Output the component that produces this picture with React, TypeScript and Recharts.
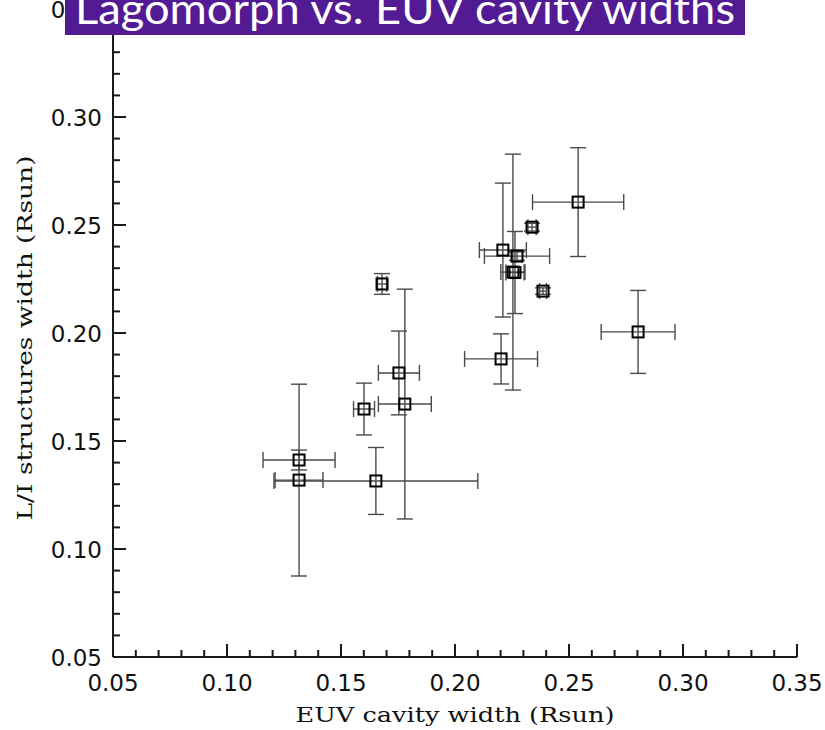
import React from 'react';
import { ScatterChart, Scatter, XAxis, YAxis, ErrorBar } from 'recharts';

const euvWidth = [0.1316, 0.1316, 0.1653, 0.1601, 0.178, 0.1754, 0.168, 0.221, 0.2272, 0.2254, 0.2263, 0.2338, 0.254, 0.2386, 0.2803, 0.2202];
const liWidth = [0.1412, 0.1319, 0.1315, 0.1648, 0.1671, 0.1815, 0.2227, 0.2384, 0.2356, 0.2282, 0.228, 0.249, 0.2606, 0.2194, 0.2005, 0.188];
const euvErr = [0.0158, 0.0105, 0.0447, 0.0046, 0.0116, 0.009, 0.002, 0.0103, 0.0143, 0.0053, 0.004, 0.0018, 0.02, 0.0015, 0.0162, 0.016];
const liErr = [0.0046, 0.0444, 0.0155, 0.012, 0.0532, 0.0194, 0.0048, 0.031, 0.002, 0.0546, 0.019, 0.0018, 0.0252, 0.0015, 0.0192, 0.0116];

const axisTicks = [0.05, 0.06, 0.07, 0.08, 0.09, 0.1, 0.11, 0.12, 0.13, 0.14, 0.15, 0.16, 0.17, 0.18, 0.19, 0.2, 0.21, 0.22, 0.23, 0.24, 0.25, 0.26, 0.27, 0.28, 0.29, 0.3, 0.31, 0.32, 0.33, 0.34, 0.35];

const titleText = 'Lagomorph vs. EUV cavity widths';
const xLabel = 'EUV cavity width (Rsun)';
const yLabel = 'L/I structures width (Rsun)';

const data = euvWidth.map((x, i) => ({ x, y: liWidth[i], xErr: euvErr[i], yErr: liErr[i] }));

const isMajor = (v: number) => Math.round(v * 100) % 5 === 0;
const MAJ = 13;
const MIN = 7;
const AX = '#1a1a1a';
const tickFont = { fontFamily: '"DejaVu Sans", sans-serif', fontSize: 23, fill: '#111' };
const labelFont = { fontFamily: '"DejaVu Serif", serif', fontSize: 21, fill: '#111' };

const BottomTick = (p: any) => {
  const { x, y, payload } = p;
  const m = isMajor(payload.value);
  return (
    <g>
      <line x1={x} y1={y} x2={x} y2={y - (m ? MAJ : MIN)} stroke={AX} strokeWidth={2} />
      {m && (
        <text x={x} y={y + 34} textAnchor="middle" {...tickFont}>
          {payload.value.toFixed(2)}
        </text>
      )}
    </g>
  );
};

const TopTick = (p: any) => {
  const { x, y, payload } = p;
  const m = isMajor(payload.value);
  return <line x1={x} y1={y} x2={x} y2={y + (m ? MAJ : MIN)} stroke={AX} strokeWidth={2} />;
};

const LeftTick = (p: any) => {
  const { x, y, payload } = p;
  const m = isMajor(payload.value);
  return (
    <g>
      <line x1={x} y1={y} x2={x + (m ? MAJ : MIN)} y2={y} stroke={AX} strokeWidth={2} />
      {m && (
        <text x={x - 11} y={y + 8.5} textAnchor="end" {...tickFont}>
          {payload.value.toFixed(2)}
        </text>
      )}
    </g>
  );
};

const RightTick = (p: any) => {
  const { x, y, payload } = p;
  const m = isMajor(payload.value);
  return <line x1={x} y1={y} x2={x - (m ? MAJ : MIN)} y2={y} stroke={AX} strokeWidth={2} />;
};

const SquareMarker = (p: any) => {
  const { cx, cy } = p;
  if (cx == null || cy == null) return null;
  const s = 11;
  return <rect x={cx - s / 2} y={cy - s / 2} width={s} height={s} fill="none" stroke="#000" strokeWidth={2} />;
};

const XLabelContent = (p: any) => {
  const vb = p.viewBox || { x: 113, y: 657, width: 684 };
  return (
    <text x={vb.x + vb.width / 2} y={vb.y + 65} textAnchor="middle" textLength={319} lengthAdjust="spacingAndGlyphs" {...labelFont}>
      {xLabel}
    </text>
  );
};

const YLabelContent = () => {
  const cx = 25;
  const cy = 338;
  return (
    <text x={cx} y={cy} textAnchor="middle" dominantBaseline="central" textLength={365} lengthAdjust="spacingAndGlyphs" transform={`rotate(-90 ${cx} ${cy})`} {...labelFont}>
      {yLabel}
    </text>
  );
};

export default function App() {
  return (
    <div style={{ position: 'fixed', left: 0, top: 0, width: 825, height: 730, background: '#fff' }}>
      <ScatterChart width={825} height={730} margin={{ top: 9, right: 28, bottom: 0, left: 0 }}>
        <XAxis
          xAxisId="bottom"
          type="number"
          dataKey="x"
          domain={[0.05, 0.35]}
          ticks={axisTicks}
          interval={0}
          height={73}
          tickSize={0}
          tickMargin={0}
          tickLine={false}
          axisLine={{ stroke: AX, strokeWidth: 2 }}
          tick={<BottomTick />}
          allowDataOverflow
          label={<XLabelContent />}
        />
        <XAxis
          xAxisId="top"
          orientation="top"
          type="number"
          dataKey="x"
          domain={[0.05, 0.35]}
          ticks={axisTicks}
          interval={0}
          height={0}
          tickSize={0}
          tickMargin={0}
          tickLine={false}
          axisLine={{ stroke: AX, strokeWidth: 2 }}
          tick={<TopTick />}
          allowDataOverflow
        />
        <YAxis
          yAxisId="left"
          type="number"
          dataKey="y"
          domain={[0.05, 0.35]}
          ticks={axisTicks}
          interval={0}
          width={113}
          tickSize={0}
          tickMargin={0}
          tickLine={false}
          axisLine={{ stroke: AX, strokeWidth: 2 }}
          tick={<LeftTick />}
          allowDataOverflow
          label={<YLabelContent />}
        />
        <YAxis
          yAxisId="right"
          orientation="right"
          type="number"
          dataKey="y"
          domain={[0.05, 0.35]}
          ticks={axisTicks}
          interval={0}
          width={0}
          tickSize={0}
          tickMargin={0}
          tickLine={false}
          axisLine={{ stroke: AX, strokeWidth: 2 }}
          tick={<RightTick />}
          allowDataOverflow
        />
        <Scatter xAxisId="bottom" yAxisId="left" data={data} shape={<SquareMarker />} isAnimationActive={false}>
          <ErrorBar dataKey="xErr" direction="x" width={8} stroke="#4a4a4a" strokeWidth={1.4} isAnimationActive={false} />
          <ErrorBar dataKey="yErr" direction="y" width={8} stroke="#4a4a4a" strokeWidth={1.4} isAnimationActive={false} />
        </Scatter>
      </ScatterChart>
      <svg width={825} height={40} style={{ position: 'absolute', left: 0, top: 0 }}>
        <rect x={65} y={0} width={680} height={35} fill="#531B93" />
        <text
          x={405}
          y={24}
          textAnchor="middle"
          fill="#fff"
          style={{ fontFamily: 'Lato, "Open Sans", sans-serif', fontSize: 42 }}
          textLength={660}
          lengthAdjust="spacingAndGlyphs"
        >
          {titleText}
        </text>
      </svg>
    </div>
  );
}
